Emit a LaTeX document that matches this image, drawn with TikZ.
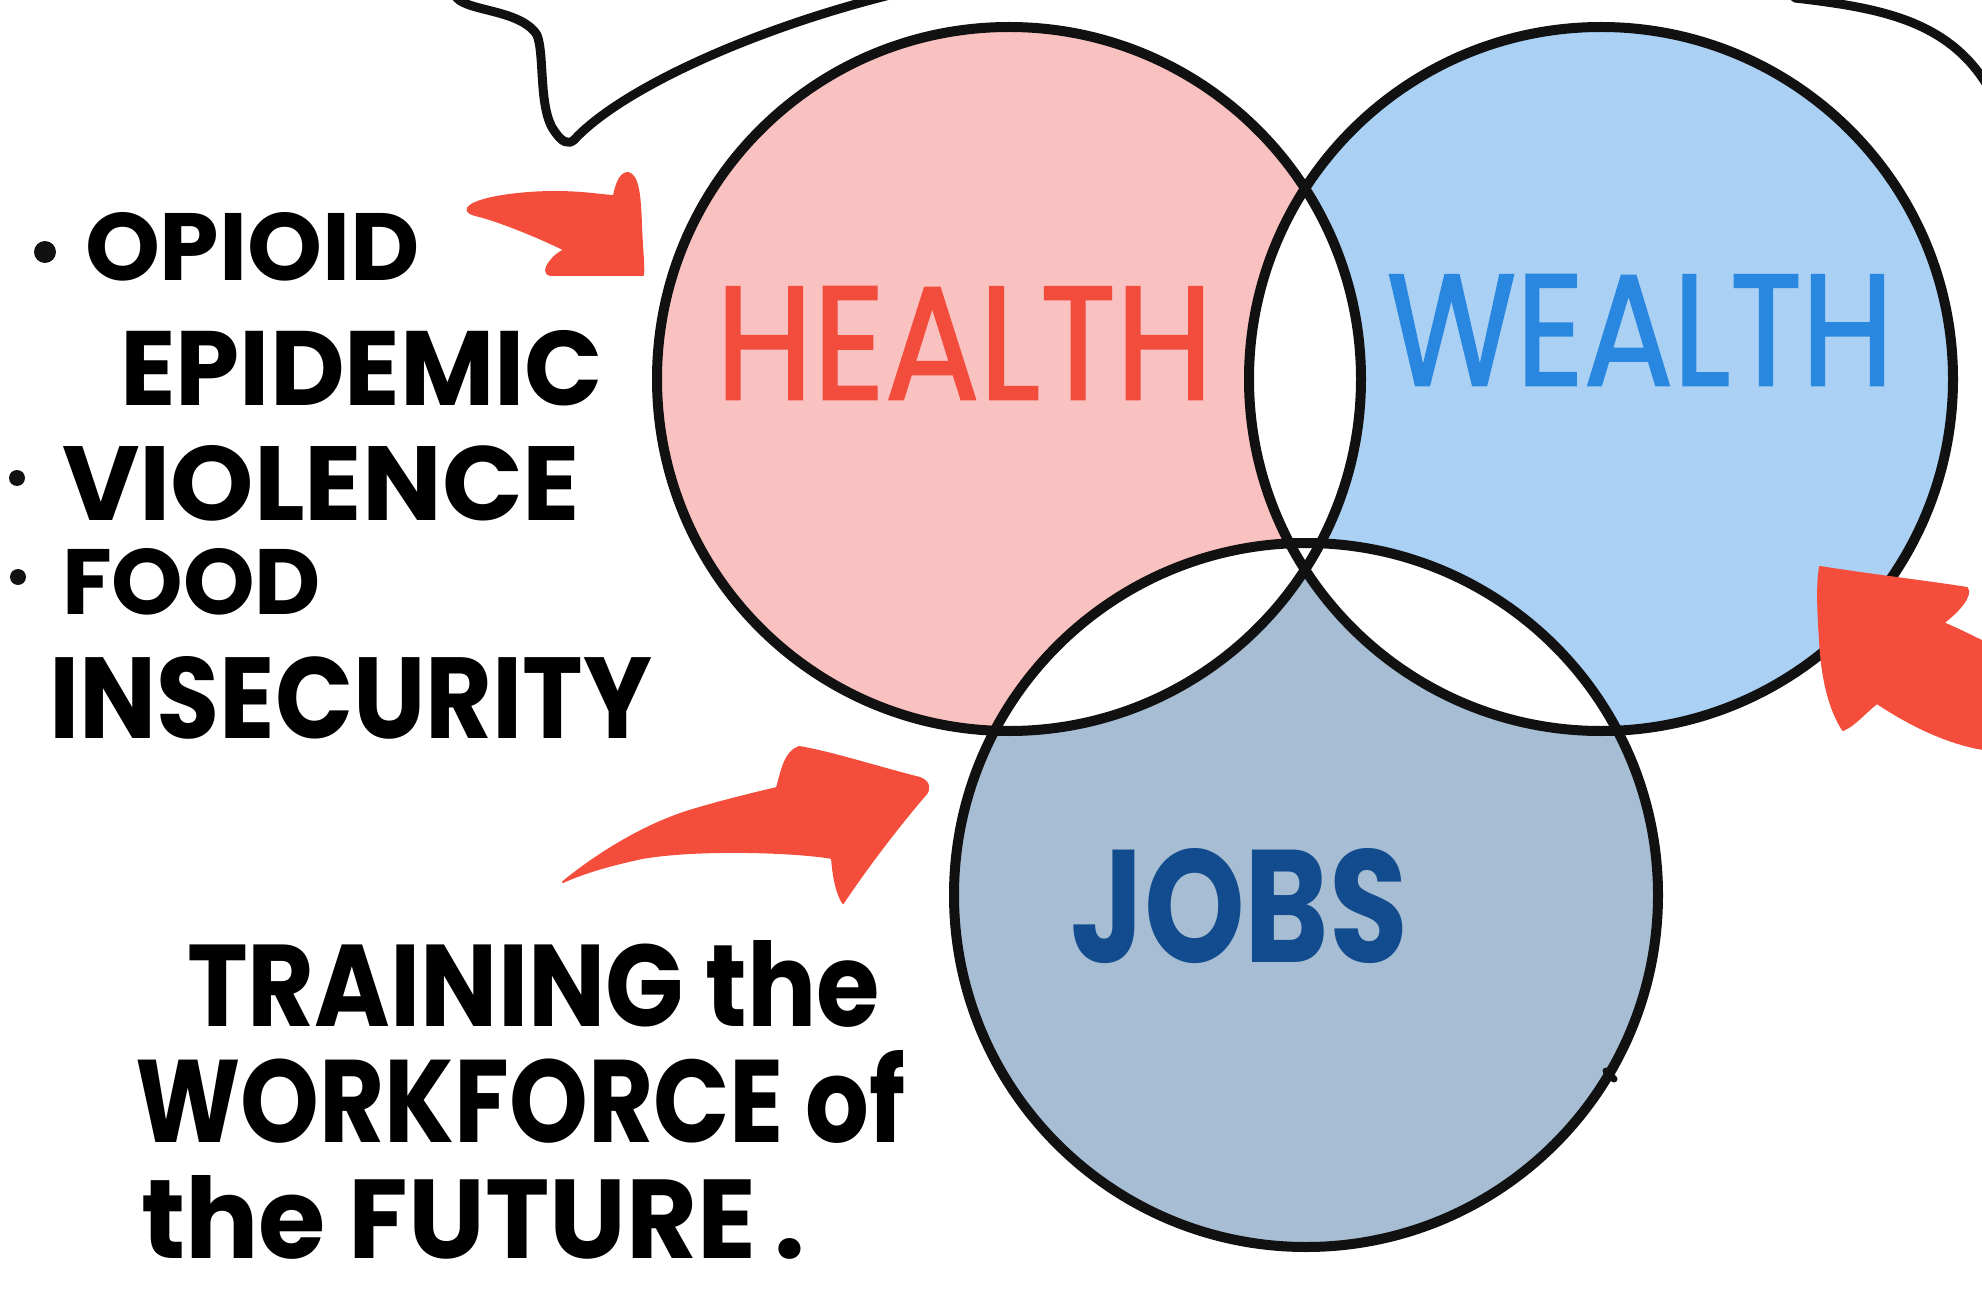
\documentclass[tikz,border=0pt]{standalone}
\usepackage{fontspec}
\setmainfont{Poppins}
\newfontfamily\medfont{Poppins}[FakeBold=1.6]
\usepackage{graphicx}
\definecolor{hfill}{HTML}{F9C1BF}
\definecolor{wfill}{HTML}{AAD0F4}
\definecolor{jfill}{HTML}{A6BDD3}
\definecolor{htext}{HTML}{F24C3D}
\definecolor{wtext}{HTML}{2A87DF}
\definecolor{jtext}{HTML}{124C8E}
\definecolor{arrowred}{HTML}{F44D3B}
\definecolor{ink}{HTML}{111111}
\newcommand{\fitt}[3]{\resizebox{#1pt}{#2pt}{\bfseries #3}}
\newcommand{\fitr}[3]{\resizebox{#1pt}{#2pt}{\medfont #3}}
\begin{document}
\begin{tikzpicture}[x=1pt,y=-1pt,
  ring/.style={draw=ink,line width=10pt},
  lbl/.style={inner sep=0pt,outer sep=0pt,anchor=north west},
  redarrow/.style={fill=arrowred,draw=arrowred,line width=2pt,line join=round},
  pen/.style={draw=ink,line width=9pt,line cap=round,line join=round}]
\fill[white] (0,0) rectangle (1982,1289);
\useasboundingbox (0,0) rectangle (1982,1289);
\coordinate (H) at (1009,379);
\coordinate (W) at (1601,379);
\coordinate (J) at (1306,895);
% fills
\fill[hfill] (H) circle (352);
\fill[wfill] (W) circle (352);
\fill[jfill] (J) circle (352);
\begin{scope}\clip (H) circle (352); \fill[white] (W) circle (352); \fill[white] (J) circle (352);\end{scope}
\begin{scope}\clip (W) circle (352); \fill[white] (J) circle (352);\end{scope}
% outlines
\draw[ring] (H) circle (352);
\draw[ring] (W) circle (352);
\draw[ring] (J) circle (352);
\draw[ink,line width=7pt,line cap=round] (1606,1071) -- (1614,1079);
% top bubble lines
\draw[pen] (455,-5) .. controls (462,12) and (520,8) .. (537,35)
  .. controls (545,55) and (538,110) .. (555,132)
  .. controls (562,142) and (568,145) .. (574,140)
  .. controls (620,90) and (750,30) .. (890,-5);
\draw[pen] (1795,-2) .. controls (1880,8) and (1950,20) .. (1990,90);
% circle labels
\node[lbl,text=htext] (health) at (716,287) {\fitr{497}{112}{HEALTH}};
\node[lbl,text=wtext] (wealth) at (1387,275) {\fitr{506}{110}{WEALTH}};
\node[lbl,text=jtext] (jobs) at (1070,848) {\fitt{338}{114}{JOBS}};
% left list
\fill[ink] (45,252) circle (11);
\node[lbl] (opioid) at (85,212) {\fitt{335}{68}{OPIOID}};
\node[lbl] (epidemic) at (120,330) {\fitt{483}{75}{EPIDEMIC}};
\fill[ink] (17,478) circle (8);
\node[lbl] (violence) at (62,445) {\fitt{518}{75}{VIOLENCE}};
\fill[ink] (18,577) circle (8);
\node[lbl] (food) at (62,548) {\fitt{259}{66}{FOOD}};
\node[lbl] (insecurity) at (49,656) {\fitt{603}{82}{INSECURITY}};
% lower text
\node[lbl] (training) at (187,940) {\fitt{693}{86}{TRAINING the}};
\node[lbl] (workforce) at (135,1050) {\fitt{770}{92}{WORKFORCE of}};
\node[lbl] (future) at (141,1175) {\fitt{664}{83}{the FUTURE\,.}};
% arrows
\path[redarrow] (468,208) .. controls (475,198) and (520,192) .. (555,192)
  .. controls (585,192) and (605,196) .. (614,196)
  .. controls (616,185) and (620,173) .. (628,173)
  .. controls (638,175) and (640,195) .. (641,225)
  .. controls (642,250) and (644,268) .. (643,275)
  -- (552,275)
  .. controls (544,275) and (545,268) .. (550,262)
  .. controls (554,256) and (560,252) .. (565,250)
  .. controls (545,240) and (510,225) .. (483,217)
  .. controls (470,214) and (466,212) .. cycle;
\path[redarrow] (563,882) .. controls (590,860) and (640,825) .. (696,809)
  .. controls (730,799) and (760,792) .. (777,788)
  .. controls (782,770) and (785,752) .. (799,747)
  .. controls (830,752) and (880,768) .. (920,778)
  .. controls (930,782) and (930,790) .. (925,795)
  .. controls (895,830) and (865,870) .. (843,903)
  .. controls (835,890) and (833,870) .. (832,858)
  .. controls (800,852) and (700,848) .. (642,858)
  .. controls (610,865) and (585,872) .. cycle;
\path[redarrow] (1820,567) .. controls (1870,575) and (1930,582) .. (1967,588)
  .. controls (1972,595) and (1960,610) .. (1943,623)
  .. controls (1960,630) and (1975,638) .. (1990,645)
  -- (1990,750)
  .. controls (1950,745) and (1910,725) .. (1877,703)
  .. controls (1865,712) and (1855,725) .. (1843,730)
  .. controls (1830,710) and (1822,680) .. (1820,640)
  .. controls (1818,610) and (1817,585) .. cycle;
\end{tikzpicture}
\end{document}
